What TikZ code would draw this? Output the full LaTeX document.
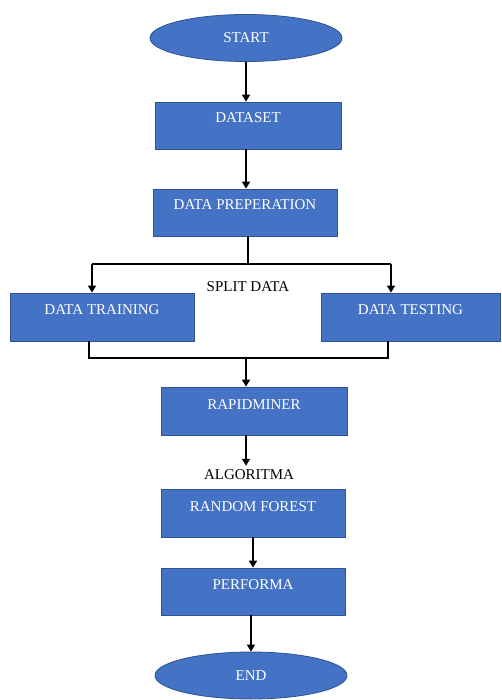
\documentclass[tikz,border=0pt]{standalone}
\usepackage{fontspec}
\setmainfont{Liberation Serif}
\usetikzlibrary{shapes.geometric,arrows.meta}
\definecolor{boxblue}{RGB}{68,114,196}
\definecolor{boxline}{RGB}{47,82,143}

\begin{document}
\begin{tikzpicture}[x=1pt,y=1pt,
  box/.style={draw=boxline, fill=boxblue, text=white, line width=0.8pt, minimum width=184pt, inner xsep=0pt, inner ysep=0pt, text height=21pt, text depth=26pt, font=\fontsize{15}{18}\selectfont},
  term/.style={ellipse, draw=boxline, fill=boxblue, text=white, line width=0.8pt, minimum width=192pt, minimum height=47pt, inner sep=0pt, font=\fontsize{15}{18}\selectfont},
  flow/.style={-{Triangle[length=7pt,width=8pt]}, line width=1.5pt},
  link/.style={line width=1.5pt}]
\useasboundingbox (0,0) rectangle (501,-700);

\node[term] (start) at (246,-38) {START};
\node[box, minimum width=186pt] (dataset) at (248,-125.5) {DATASET};
\node[box] (prep) at (245,-212.5) {DATA PREPERATION};
\node[box, text depth=27pt] (training) at (102,-317) {DATA TRAINING};
\node[box, minimum width=179pt, text depth=27pt] (testing) at (410.5,-317) {DATA TESTING};
\node[font=\fontsize{15}{18}\selectfont] (split) at (248,-287) {SPLIT DATA};
\node[box, minimum width=186pt, text height=22pt] (rapid) at (254,-411) {RAPIDMINER};
\node[font=\fontsize{15}{18}\selectfont, inner sep=4pt] (algo) at (249,-475) {ALGORITMA};
\node[box, text height=22pt] (forest) at (253,-513) {RANDOM FOREST};
\node[box] (performa) at (253,-591.5) {PERFORMA};
\node[term] (end) at (251,-675.5) {END};

\coordinate (splitL) at (92,-264);
\coordinate (splitR) at (391,-264);
\coordinate (joinL) at (89,-358);
\coordinate (joinR) at (388,-358);
\coordinate (joinM) at (246,-358);

\draw[flow] (start.south) -- (start.south |- dataset.north);
\draw[flow] (dataset.south -| joinM) -- (joinM |- prep.north);
\draw[link] (prep.south -| split) -- (split |- splitL);
\draw[link] (splitL) -- (splitR);
\draw[flow] (splitL) -- (splitL |- training.north);
\draw[flow] (splitR) -- (splitR |- testing.north);
\draw[link] (joinL |- training.south) -- (joinL) -- (joinR) -- (joinR |- testing.south);
\draw[flow] (joinM) -- (joinM |- rapid.north);
\draw[flow] (rapid.south -| joinM) -- (joinM |- algo.north);
\draw[flow] (forest.south) -- (performa.north);
\draw[flow] (performa.south -| end) -- (end.north);
\end{tikzpicture}
\end{document}
